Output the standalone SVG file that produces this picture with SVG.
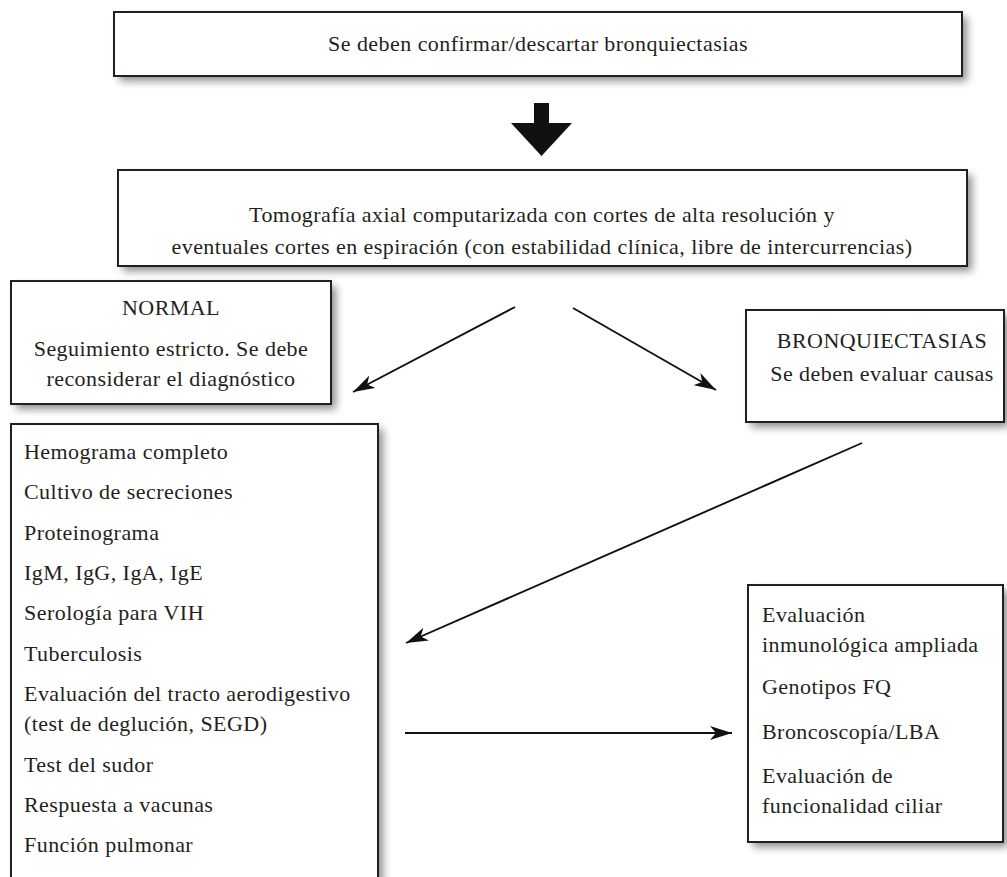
<svg xmlns="http://www.w3.org/2000/svg" width="1007" height="877" viewBox="0 0 1007 877">
<defs>
<filter id="blur" x="-20%" y="-20%" width="140%" height="140%">
<feGaussianBlur stdDeviation="4"/>
</filter>
<marker id="ah" viewBox="0 0 22 14" refX="22" refY="7" markerWidth="22" markerHeight="14" markerUnits="userSpaceOnUse" orient="auto">
<path d="M0,0 L22,7 L0,14 L6,7 Z" fill="#111"/>
</marker>
<style>
.box{fill:#fff;stroke:#231f20;stroke-width:2}
.shd{fill:#000;opacity:0.45}
text{font-family:"Liberation Serif","Times New Roman",serif;font-size:22px;fill:#231f20;letter-spacing:0.45px}
.c{text-anchor:middle}
.ln{stroke:#111;stroke-width:1.9;fill:none;marker-end:url(#ah)}
</style>
</defs>
<rect width="1007" height="877" fill="#fff"/>
<g id="top">
<rect class="shd" x="119" y="17" width="848" height="64" filter="url(#blur)"/>
<rect class="box" x="114" y="12" width="848" height="64"/>
<text class="c" x="538" y="51">Se deben confirmar/descartar bronquiectasias</text>
</g>
<g id="bigarrow">
<polygon points="534,103 549,103 549,123 572,123 541.5,156 511,123 534,123" fill="#111"/>
</g>
<g id="tac">
<rect class="shd" x="123" y="175" width="849" height="96" filter="url(#blur)"/>
<rect class="box" x="118" y="170" width="849" height="96"/>
<text class="c" x="542" y="222">Tomografía axial computarizada con cortes de alta resolución y</text>
<text class="c" x="542" y="254">eventuales cortes en espiración (con estabilidad clínica, libre de intercurrencias)</text>
</g>
<g id="normal">
<rect class="shd" x="16" y="286" width="320" height="123" filter="url(#blur)"/>
<rect class="box" x="11" y="281" width="320" height="123"/>
<text class="c" x="171" y="315">NORMAL</text>
<text class="c" x="171" y="356">Seguimiento estricto. Se debe</text>
<text class="c" x="171" y="386">reconsiderar el diagnóstico</text>
</g>
<g id="bronq">
<rect class="shd" x="751" y="315" width="258" height="112" filter="url(#blur)"/>
<rect class="box" x="746" y="310" width="258" height="112"/>
<text class="c" x="882" y="348">BRONQUIECTASIAS</text>
<text class="c" x="882" y="381">Se deben evaluar causas</text>
</g>
<g id="estudios">
<rect class="shd" x="16" y="429" width="367" height="470" filter="url(#blur)"/>
<rect class="box" x="11" y="424" width="367" height="470"/>
<text x="24" y="459">Hemograma completo</text>
<text x="24" y="499">Cultivo de secreciones</text>
<text x="24" y="540">Proteinograma</text>
<text x="24" y="580">IgM, IgG, IgA, IgE</text>
<text x="24" y="620">Serología para VIH</text>
<text x="24" y="661">Tuberculosis</text>
<text x="24" y="701">Evaluación del tracto aerodigestivo</text>
<text x="24" y="731">(test de deglución, SEGD)</text>
<text x="24" y="772">Test del sudor</text>
<text x="24" y="812">Respuesta a vacunas</text>
<text x="24" y="852">Función pulmonar</text>
</g>
<g id="avanzados">
<rect class="shd" x="753" y="590" width="255" height="257" filter="url(#blur)"/>
<rect class="box" x="748" y="585" width="255" height="257"/>
<text x="762" y="622">Evaluación</text>
<text x="762" y="652">inmunológica ampliada</text>
<text x="762" y="694">Genotipos FQ</text>
<text x="762" y="739">Broncoscopía/LBA</text>
<text x="762" y="783">Evaluación de</text>
<text x="762" y="813">funcionalidad ciliar</text>
</g>
<g id="connectors">
<line class="ln" x1="515" y1="307" x2="353" y2="392"/>
<line class="ln" x1="573" y1="308" x2="716" y2="390"/>
<line class="ln" x1="862" y1="443" x2="406" y2="643"/>
<line class="ln" x1="405" y1="733" x2="732" y2="733"/>
</g>
</svg>
